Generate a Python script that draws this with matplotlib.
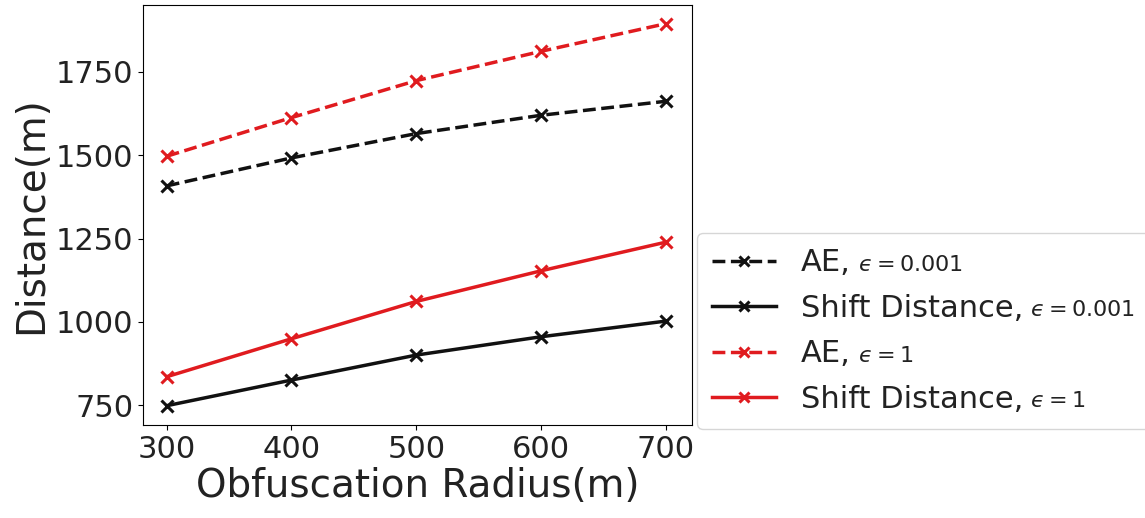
import matplotlib
matplotlib.use("Agg")
import matplotlib.pyplot as plt

radius = [300, 400, 500, 600, 700]
ae_eps0001 = [1408, 1492, 1565, 1620, 1662]
shift_eps0001 = [748, 825, 900, 955, 1002]
ae_eps1 = [1497, 1613, 1724, 1812, 1895]
shift_eps1 = [835, 949, 1061, 1153, 1239]

names = ['AE,', 'Shift Distance,', 'AE,', 'Shift Distance,']
eps_parts = ['$\u03f5=0.001$', '$\u03f5=0.001$', '$\u03f5=1$', '$\u03f5=1$']
red = '#e01b1f'
dark = '#111111'

fig = plt.figure(figsize=(11.45, 5.18), dpi=100)
ax = fig.add_axes([0.1249, 0.1795, 0.4795, 0.8108])

kw = dict(marker='x', markersize=9, markeredgewidth=2.2, linewidth=2.5)
ax.plot(radius, ae_eps0001, '--', color=dark, label=names[0], **kw)
ax.plot(radius, shift_eps0001, '-', color=dark, label=names[1], **kw)
ax.plot(radius, ae_eps1, '--', color=red, label=names[2], **kw)
ax.plot(radius, shift_eps1, '-', color=red, label=names[3], **kw)

ax.set_xticks(radius)
ax.set_yticks([750, 1000, 1250, 1500, 1750])
ax.set_xlim(281, 721)
ax.set_ylim(690, 1951)
ax.tick_params(labelsize=22, colors='#222222')
ax.tick_params(color='black')
ax.set_xlabel('Obfuscation Radius(m)', fontsize=28, color='#222222', labelpad=2)
ax.set_ylabel('Distance(m)', fontsize=28, color='#222222', labelpad=4)

leg = fig.legend(loc='upper left', bbox_to_anchor=(0.6087, 0.0, 0.45, 0.55),
                 mode='expand', borderaxespad=0, fontsize=22, markerscale=0.75,
                 handlelength=2.1, labelspacing=0.54, borderpad=0.5,
                 frameon=True)
for t in leg.get_texts():
    t.set_color('#222222')

fig.canvas.draw()
for t, part in zip(leg.get_texts(), eps_parts):
    fig.add_artist(plt.Annotation(part, xy=(1, 0), xycoords=t,
                                  xytext=(5, 2), textcoords='offset points',
                                  fontsize=16, color='#222222', zorder=10,
                                  ha='left', va='bottom'))

fig.savefig('out.png', dpi=100)
